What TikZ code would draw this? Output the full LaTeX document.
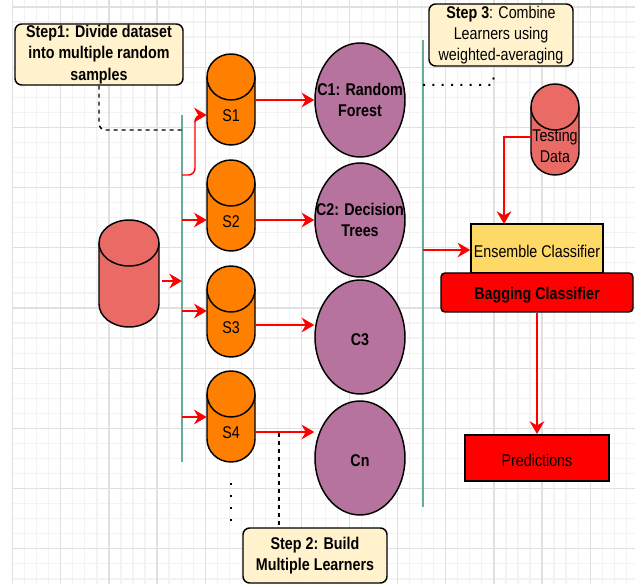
\documentclass[tikz,border=0pt]{standalone}
\usepackage{fontspec}
\setmainfont[FakeStretch=0.84]{Liberation Sans}
\usetikzlibrary{arrows.meta,shapes.geometric}
\definecolor{gridminor}{HTML}{F3F3F3}
\definecolor{gridmajor}{HTML}{E0E0E0}
\definecolor{notefill}{HTML}{FFF2CC}
\definecolor{orangefill}{HTML}{FF8000}
\definecolor{datafill}{HTML}{EA6B66}
\definecolor{purplefill}{HTML}{B5739D}
\definecolor{yellowfill}{HTML}{FFD966}
\definecolor{tealline}{HTML}{67AB9F}
\tikzset{
	txt/.style = {font=\fontsize{12.75}{16}\selectfont, align=center, inner sep=0pt, execute at begin node={\rule{0pt}{13pt}}},
	boldtxt/.style = {txt, font=\fontsize{12.75}{16}\selectfont\bfseries},
	outline/.style = {draw, line width=1.1pt},
	model/.style = {boldtxt, outline, ellipse, fill=purplefill, inner xsep=-20pt, minimum width=67.5pt, minimum height=85.5pt},
	note/.style = {outline, fill=notefill, rounded corners=5pt},
	arr/.style = {-{Stealth[length=9.5pt,width=11pt]}, red, line width=1.1pt},
	vline/.style = {tealline, line width=1pt},
	dashline/.style = {black, line width=1.1pt, dash pattern=on 3pt off 3pt}
}
\newcommand{\tank}[8]{
	\draw[outline, fill=#6, shift={(#2,#3)}] (-#4pt,#5pt-17.25pt) arc[start angle=180, end angle=0, x radius=#4pt, y radius=17.25pt]
		-- (#4pt,-#5pt+17.25pt) arc[start angle=0, end angle=-180, x radius=#4pt, y radius=17.25pt] -- cycle;
	\draw[outline, shift={(#2,#3)}] (-#4pt,#5pt-17.25pt) arc[start angle=180, end angle=360, x radius=#4pt, y radius=17.25pt];
	\node[minimum width=2*#4pt, minimum height=2*#5pt, inner sep=0pt, label={[txt, yshift=#8]center:#7}] (#1) at (#2,#3) {};
}
\begin{document}
\begin{tikzpicture}[x=0.75pt,y=-0.75pt]
	\useasboundingbox (0,0) rectangle (639,584);
	\foreach \gx in {0,...,51}
		\draw[gridminor, line width=0.9pt] ({12.7+12.03*\gx},0) -- ({12.7+12.03*\gx},584);
	\foreach \gy in {0,...,38}
		\draw[gridminor, line width=0.9pt] (13,{7+15.05*\gy}) -- (635,{7+15.05*\gy});
	\foreach \gx in {0,...,12}
		\draw[gridmajor, line width=0.9pt] ({12.7+48.12*\gx},0) -- ({12.7+48.12*\gx},584);
	\foreach \gy in {0,...,9}
		\draw[gridmajor, line width=0.9pt] (13,{7+60.2*\gy}) -- (635,{7+60.2*\gy});

	\coordinate (lefttop) at (182,115);
	\coordinate (leftbot) at (182,462);
	\coordinate (righttop) at (423,40);
	\coordinate (rightbot) at (423,507);
	\draw[vline] (lefttop) -- (leftbot);
	\draw[vline] (righttop) -- (rightbot);

	\node[boldtxt, note, minimum width=126pt, minimum height=45.75pt] (step1) at (99,54.5) {Step1: Divide dataset\\into multiple random\\samples};
	\node[txt, note, minimum width=108pt, minimum height=46.5pt] (step3) at (501,35) {\textbf{Step 3}: Combine\\Learners using\\weighted-averaging};
	\node[boldtxt, note, minimum width=108pt, minimum height=41.25pt] (step2) at (315,555.5) {Step 2: Build\\Multiple Learners};

	\tank{data}{129}{273.5}{22.5}{40.125}{datafill}{}{0pt}
	\tank{test}{555}{129.5}{18}{34.125}{datafill}{Testing\\Data}{-12.5pt}
	\tank{S1}{231}{99.5}{18}{34.125}{orangefill}{S1}{-10.4pt}
	\tank{S2}{231}{205.5}{18}{34.125}{orangefill}{S2}{-10.4pt}
	\tank{S3}{231}{311.5}{18}{34.125}{orangefill}{S3}{-10.4pt}
	\tank{S4}{231}{416.5}{18}{34.125}{orangefill}{S4}{-10.4pt}

	\node[model] (C1) at (360,100) {C1: Random\\Forest};
	\node[model] (C2) at (360,220) {C2: Decision\\Trees};
	\node[model] (C3) at (360,337) {C3};
	\node[model] (Cn) at (360,458) {Cn};

	\node[txt, outline, fill=yellowfill, minimum width=99pt, minimum height=36.75pt] (ens) at (537,248.5) {Ensemble Classifier};
	\node[boldtxt, outline, fill=red, rounded corners=3pt, minimum width=144pt, minimum height=29.25pt] (bag) at (537,292.5) {Bagging Classifier};
	\node[txt, draw, line width=1.5pt, fill=red, minimum width=108pt, minimum height=34.5pt] (pred) at (537,458) {Predictions};

	\draw[arr] (S1.east |- C1) -- (C1);
	\draw[arr] (S2.east |- C2) -- (C2);
	\draw[arr] (S3.east |- 0,325) -- (C3.west |- 0,325);
	\draw[arr] (S4.east |- 0,432) -- (Cn.west |- 0,432);
	\draw[arr] (162,281) -- (lefttop |- 0,281);
	\draw[arr, rounded corners=5pt] (lefttop |- 0,175) -- (195,175) -- (195,115) -- (S1.west |- 0,115);
	\draw[arr] (lefttop |- 0,220) -- (S2.west |- 0,220);
	\draw[arr] (lefttop |- 0,311) -- (S3.west |- 0,311);
	\draw[arr] (lefttop |- 0,417) -- (S4.west |- 0,417);
	\draw[arr] (test.west |- 0,137) -- (504,137) -- (504,224);
	\draw[arr] (righttop |- 0,250) -- (ens.west |- 0,250);
	\draw[arr] (bag.south) -- (pred.north);

	\coordinate (tapS4) at (279,433);
	\coordinate (tapR) at (492,85);
	\coordinate (tapE) at (495,72);
	\coordinate (moretop) at (231,483);
	\coordinate (morebot) at (231,522);
	\draw[dashline, rounded corners=5pt] (step1.south) -- (99,130) -- (lefttop |- 0,130);
	\draw[dashline] (tapS4) -- (tapS4 |- step2.north);
	\draw[black, line width=1.5pt, dash pattern=on 1.5pt off 5.5pt] (righttop |- tapR) -- (tapR) -- (tapE);
	\draw[black, line width=1.5pt, dash pattern=on 1.5pt off 7.5pt] (moretop) -- (morebot);
\end{tikzpicture}
\end{document}
